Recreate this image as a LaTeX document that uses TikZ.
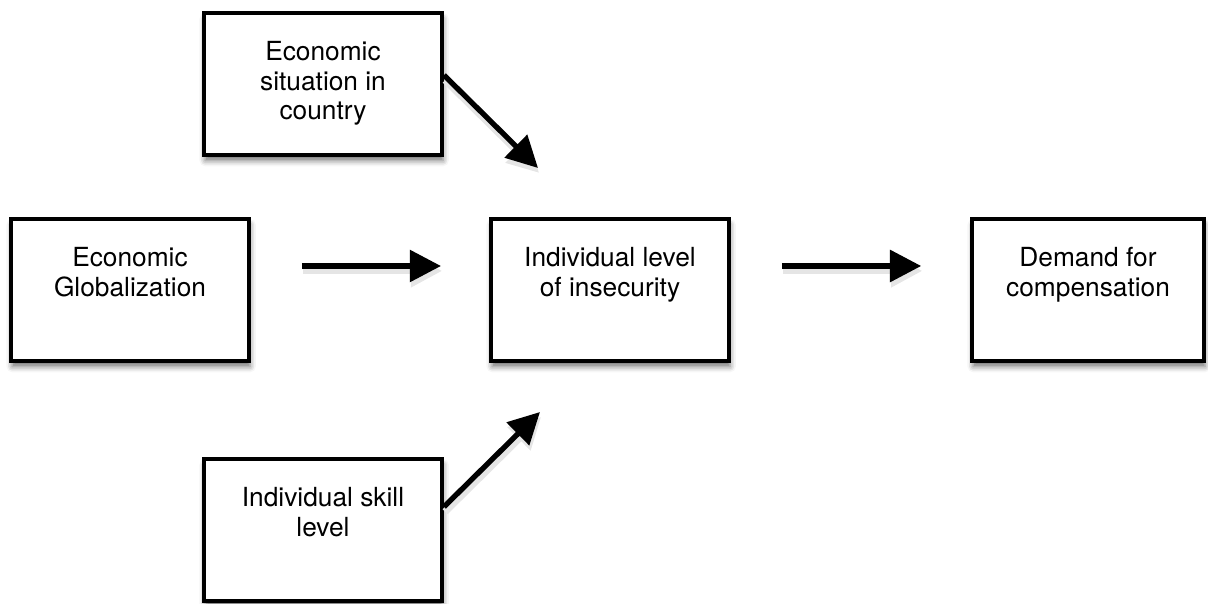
\documentclass[tikz,border=0pt]{standalone}
\usepackage{fontspec}
\setmainfont{TeX Gyre Heros}
\usetikzlibrary{arrows.meta,positioning,shadows.blur}

\tikzset{
  box/.style={draw, line width=2.8pt, fill=white, minimum width=5.95cm, minimum height=3.55cm, inner sep=0pt,
    blur shadow={shadow xshift=0.8pt, shadow yshift=-4pt, shadow blur radius=4pt, shadow opacity=55}},
  boxtext/.style={align=center, inner sep=0pt, font=\fontsize{18.7}{21.3}\selectfont},
  arr/.style={line width=3.8pt, -{Triangle[length=0.78cm, width=0.78cm]},
    preaction={draw=black!10, line width=5pt, transform canvas={shift={(0.8pt,-3.5pt)}}}},
}

\begin{document}
\begin{tikzpicture}[x=0.025cm, y=-0.025cm]
  \useasboundingbox (0,0) rectangle (1208,604);

  % boxes
  \node[box] (sit) at (323,84) {};
  \node[box] (glob) at (130,290) {};
  \node[box] (ins) at (610,290) {};
  \node[box, minimum width=5.8cm] (dem) at (1088,290) {};
  \node[box] (skill) at (323,530) {};

  % texts
  \node[boxtext, below=0.74cm of sit.north] (sittxt) {Economic\\situation in\\country};
  \node[boxtext, below=0.74cm of glob.north] (globtxt) {Economic\\Globalization};
  \node[boxtext, below=0.74cm of ins.north] (instxt) {Individual level\\of insecurity};
  \node[boxtext, below=0.74cm of dem.north] (demtxt) {Demand for\\compensation};
  \node[boxtext, below=0.74cm of skill.north] (skilltxt) {Individual skill\\level};

  % arrows
  \coordinate (toptip) at (538,168);
  \coordinate (bottip) at (540,412);
  \draw[arr, shorten <=1.27cm, shorten >=1.2cm] ([yshift=0.6cm]glob.east) -- ([yshift=0.6cm]ins.west);
  \draw[arr, shorten <=1.27cm, shorten >=1.22cm] ([yshift=0.6cm]ins.east) -- ([yshift=0.6cm]dem.west);
  \draw[arr] ([yshift=0.22cm]sit.east) -- (toptip);
  \draw[arr] ([yshift=0.58cm]skill.east) -- (bottip);
\end{tikzpicture}
\end{document}
